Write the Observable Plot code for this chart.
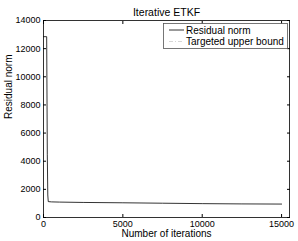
<!DOCTYPE html>
<html><head><meta charset="utf-8">
<script src="https://cdn.jsdelivr.net/npm/d3@7"></script>
<script src="https://cdn.jsdelivr.net/npm/@observablehq/plot@0.6"></script>
<style>body{margin:0;background:#fff}</style>
</head><body><div id="chart"></div>
<script>
const iterations = [0, 200, 240, 270, 300, 500, 1000, 2500, 5000, 7500, 10000, 12500, 15000];
const residualNorm = [12850, 12850, 4500, 1600, 1130, 1110, 1095, 1070, 1045, 1015, 985, 965, 955];
const xTicks = [0, 5000, 10000, 15000];
const yTicks = [0, 2000, 4000, 6000, 8000, 10000, 12000, 14000];
const legendLabels = ["Residual norm", "Targeted upper bound"];
const titleText = "Iterative ETKF";
const xLabel = "Number of iterations";
const yLabel = "Residual norm";

const data = iterations.map((x, i) => ({x, y: residualNorm[i]}));
const font = "Liberation Sans, Arial, Helvetica, sans-serif";

const plot = Plot.plot({
  width: 298, height: 241,
  marginLeft: 43, marginTop: 20, marginRight: 9, marginBottom: 24,
  style: {fontFamily: font, fontSize: "9px", color: "#000", background: "#fff"},
  x: {domain: [0, 15500]},
  y: {domain: [0, 14000]},
  marks: [
    Plot.frame({stroke: "#000", strokeWidth: 0.8}),
    Plot.axisX(xTicks, {anchor: "bottom", tickSize: -3, tickPadding: 6, tickFormat: d => String(d), label: null, fontSize: 9}),
    Plot.axisX(xTicks, {anchor: "top", tickSize: -3, tickFormat: () => "", label: null}),
    Plot.axisY(yTicks, {anchor: "left", tickSize: -3, tickPadding: 6, tickFormat: d => String(d), label: null, fontSize: 9}),
    Plot.axisY(yTicks, {anchor: "right", tickSize: -3, tickFormat: () => "", label: null}),
    Plot.line(data, {x: "x", y: "y", stroke: "#000", strokeWidth: 0.8}),
    Plot.text([titleText], {frameAnchor: "top", lineAnchor: "middle", dy: -8, fontSize: 10.5, fill: "#000"}),
    Plot.text([xLabel], {frameAnchor: "bottom", lineAnchor: "middle", dy: 16, fontSize: 10, fill: "#000"}),
    Plot.text([yLabel], {frameAnchor: "left", dx: -35, rotate: -90, fontSize: 10, fill: "#000"})
  ]
});

document.getElementById("chart").appendChild(plot);

// legend box (MATLAB style)
const svg = d3.select(plot);
const lg = svg.append("g").attr("font-family", font).attr("font-size", 10).attr("text-anchor", "start");
lg.append("rect").attr("x", 163.5).attr("y", 23.5).attr("width", 124).attr("height", 25)
  .attr("fill", "#fff").attr("stroke", "#555").attr("stroke-width", 0.8);
const styles = [{stroke: "#000", dash: null}, {stroke: "#ccc", dash: "4,2,1,2"}];
legendLabels.forEach((t, i) => {
  const cy = 30 + i * 11.5;
  lg.append("line").attr("x1", 169).attr("x2", 184).attr("y1", cy).attr("y2", cy)
    .attr("stroke", styles[i].stroke).attr("stroke-width", 0.8)
    .attr("stroke-dasharray", styles[i].dash);
  lg.append("text").attr("x", 186).attr("y", cy).attr("dy", "0.35em").attr("fill", "#000")
    .attr("text-anchor", "start").text(t);
});
</script></body></html>
